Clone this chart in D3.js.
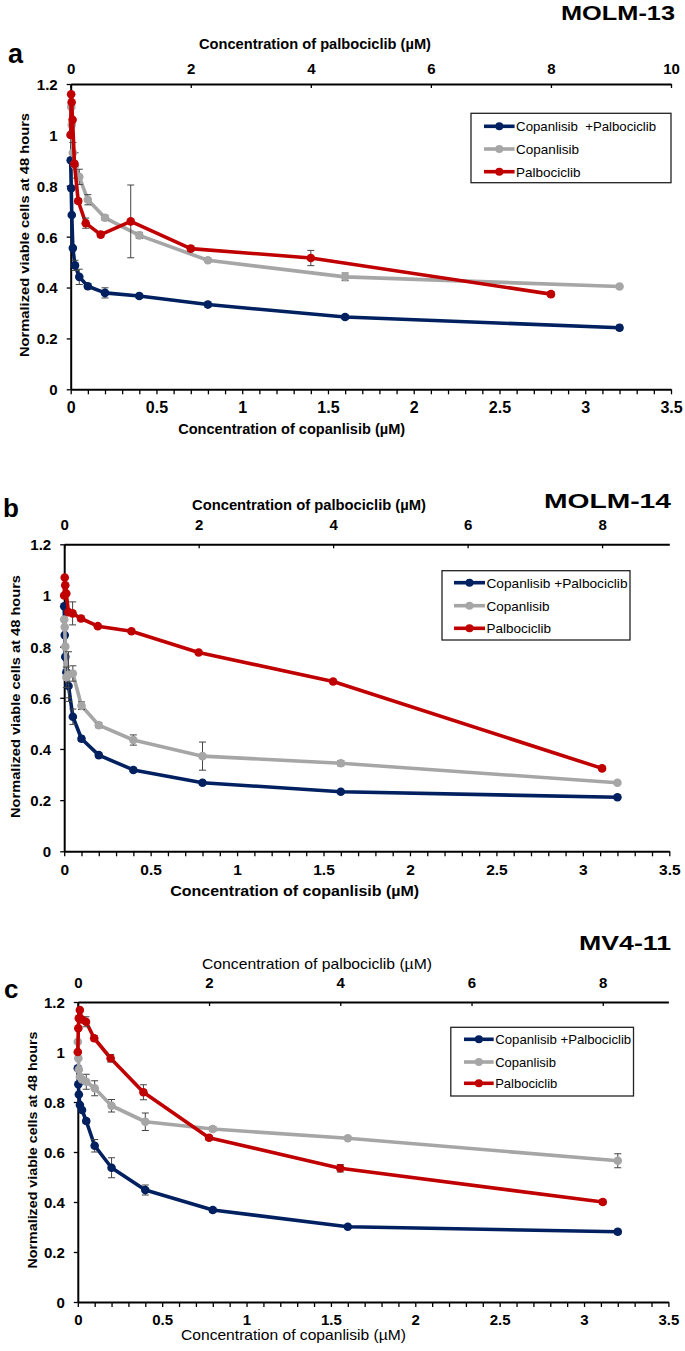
<!DOCTYPE html>
<html><head><meta charset="utf-8">
<script src="https://cdn.jsdelivr.net/npm/d3@7"></script>
<style>
body{margin:0;background:#fff}
svg{display:block}
text{font-family:"Liberation Sans",Arial,sans-serif;fill:#000}
</style>
</head><body>
<svg id="chart" width="685" height="1351"></svg>
<script>
// ---- data ----
const copanConc = [0,0.003125,0.00625,0.0125,0.025,0.05,0.1,0.2,0.4,0.8,1.6,3.2];
const palboConc = [0,0.0078125,0.015625,0.03125,0.0625,0.125,0.25,0.5,1,2,4,8];
const seriesNames = ["Copanlisib  +Palbociclib","Copanlisib","Palbociclib"];
const seriesNamesBC = ["Copanlisib +Palbociclib","Copanlisib","Palbociclib"];
const cellLines = ["MOLM-13","MOLM-14","MV4-11"];
const panelLetters = ["a","b","c"];
const yTicks = [0,0.2,0.4,0.6,0.8,1,1.2];
const xTicksBottom = [0,0.5,1,1.5,2,2.5,3,3.5];
const xTicksTopA = [0,2,4,6,8,10];
const xTicksTopBC = [0,2,4,6,8];

const molm13Combo    = [0.90,0.79,0.685,0.555,0.487,0.442,0.405,0.379,0.367,0.333,0.284,0.242];
const molm13ComboErr = [0,0,0,0,0.02,0.03,0.01,0.02,0.01,0.01,0.008,0.01];
const molm13Copan    = [1.0,1.11,1.04,0.93,0.88,0.835,0.745,0.674,0.605,0.507,0.442,0.404];
const molm13CopanErr = [0,0,0,0.04,0.05,0.03,0.02,0.01,0.012,0.006,0.015,0.006];
const molm13Palbo    = [1.0,1.16,1.128,1.059,0.886,0.74,0.653,0.608,0.66,0.553,0.516,0.374];
const molm13PalboErr = [0,0,0,0,0.01,0.01,0.02,0.01,0.143,0.01,0.03,0.01];

const molm14Combo    = [0.958,0.845,0.76,0.70,0.646,0.526,0.44,0.376,0.318,0.268,0.233,0.211];
const molm14ComboErr = [0,0,0,0,0.06,0.03,0.01,0.01,0.008,0.008,0.005,0.006];
const molm14Copan    = [0.906,0.877,0.80,0.68,0.69,0.695,0.569,0.493,0.435,0.372,0.344,0.268];
const molm14CopanErr = [0,0,0,0.04,0.09,0.03,0.015,0.01,0.02,0.055,0.01,0.006];
const molm14Palbo    = [1.0,1.07,1.04,1.008,0.935,0.93,0.91,0.88,0.86,0.777,0.664,0.324];
const molm14PalboErr = [0,0,0,0,0,0.045,0.01,0.005,0.005,0.005,0.005,0.005];

const mv411Combo     = [0.935,0.871,0.83,0.788,0.768,0.724,0.625,0.537,0.448,0.368,0.301,0.281];
const mv411ComboErr  = [0,0,0,0,0,0.01,0.025,0.04,0.02,0.01,0.005,0.01];
const mv411Copan     = [1.041,0.975,0.93,0.901,0.89,0.881,0.855,0.785,0.721,0.692,0.655,0.565];
const mv411CopanErr  = [0,0,0,0,0,0.03,0.03,0.025,0.035,0.01,0.005,0.028];
const mv411Palbo     = [1.0,1.095,1.135,1.168,1.13,1.121,1.055,0.975,0.839,0.657,0.535,0.40];
const mv411PalboErr  = [0,0,0,0,0,0.02,0.01,0.015,0.03,0.01,0.015,0.01];

const colors = ["#002060","#a6a6a6","#c00000"];

// ---- layout ----
const panels = [
  {x0:70.7, x1:671, top:84, bottom:389.3, palboMax:10, topTicks:xTicksTopA, names:seriesNames,
   data:[[molm13Combo,molm13ComboErr],[molm13Copan,molm13CopanErr],[molm13Palbo,molm13PalboErr]],
   tickFont:16, topTickBase:-10, botTickBase:23.8,
   letter:{x:8,y:63,size:27}, cell:{x:675,y:20,len:114},
   topTitle:{cx:315,y:49,len:232,w:"bold",fs:15}, botTitle:{cx:291.7,y:434,len:227,w:"bold",fs:15},
   yLabel:{x:24,cy:235,len:244},
   legend:{x0:471,x1:671,y0:113.3,y1:182.7,rows:[126.3,149,171.7],m0:484,m1:514.6,fs:13.5,tl:140}},
  {x0:64.2, x1:669.3, top:544.3, bottom:851.3, palboMax:9, topTicks:xTicksTopBC, names:seriesNamesBC,
   data:[[molm14Combo,molm14ComboErr],[molm14Copan,molm14CopanErr],[molm14Palbo,molm14PalboErr]],
   tickFont:15.5, topTickBase:-14.3, botTickBase:23.7,
   letter:{x:3,y:516.7,size:26}, cell:{x:671,y:508,len:127},
   topTitle:{cx:309,y:510,len:234,w:"bold",fs:15}, botTitle:{cx:294.7,y:896,len:249,w:"bold",fs:15},
   yLabel:{x:15,cy:696.5,len:243},
   legend:{x0:442,x1:630,y0:570.7,y1:640,rows:[582.7,605.7,628.3],m0:454,m1:485,fs:13.5,tl:141}},
  {x0:77.8, x1:668.4, top:1002, bottom:1302, palboMax:9, topTicks:xTicksTopBC, names:seriesNamesBC,
   data:[[mv411Combo,mv411ComboErr],[mv411Copan,mv411CopanErr],[mv411Palbo,mv411PalboErr]],
   tickFont:15, topTickBase:-14, botTickBase:23,
   letter:{x:4,y:998,size:26}, cell:{x:671,y:950,len:92},
   topTitle:{cx:317,y:969,len:230,w:"normal",fs:15}, botTitle:{cx:293.5,y:1340,len:225,w:"normal",fs:14.5},
   yLabel:{x:32,cy:1150,len:237},
   legend:{x0:450.8,x1:633.5,y0:1027.3,y1:1096,rows:[1039.3,1062,1083.3],m0:464,m1:493.7,fs:13,tl:136}}
];

const svg = d3.select("#chart");

panels.forEach((p, pi) => {
  const g = svg.append("g");
  const x = d3.scaleLinear().domain([0,3.5]).range([p.x0,p.x1]);
  const xt = d3.scaleLinear().domain([0,p.palboMax]).range([p.x0,p.x1]);
  const y = d3.scaleLinear().domain([0,1.2]).range([p.bottom,p.top]);

  const styleAxis = (sel) => {
    sel.select(".domain").attr("stroke","#000").attr("stroke-width",2);
    sel.selectAll(".tick line").attr("stroke","#000").attr("stroke-width",1.3);
    sel.selectAll(".tick text").attr("font-family",'"Liberation Sans",Arial,sans-serif')
       .attr("font-weight","bold").attr("fill","#000");
  };

  // bottom minor ticks
  g.append("g").attr("transform",`translate(0,${p.bottom})`)
    .call(d3.axisBottom(x).tickValues(d3.range(0,36).map(i=>i/10)).tickSize(5).tickSizeOuter(0).tickFormat(""))
    .call(styleAxis);
  // bottom labels
  g.append("g").attr("transform",`translate(0,${p.bottom})`)
    .call(d3.axisBottom(x).tickValues(xTicksBottom).tickSize(0).tickSizeOuter(0).tickFormat(d=>String(d)))
    .call(styleAxis)
    .call(s=>{s.select(".domain").remove();
      s.selectAll(".tick text").attr("y",p.botTickBase).attr("dy",null).attr("font-size",p.tickFont);});

  // left axis
  g.append("g").attr("transform",`translate(${p.x0},0)`)
    .call(d3.axisLeft(y).tickValues(yTicks).tickSize(4).tickSizeOuter(0).tickFormat(d=>String(d)))
    .call(styleAxis)
    .call(s=>s.selectAll(".tick text").attr("x",-13).attr("dy","0.36em").attr("font-size",15));

  // top axis (ticks pointing inward)
  g.append("g").attr("transform",`translate(0,${p.top})`)
    .call(d3.axisBottom(xt).tickValues(p.topTicks).tickSize(4).tickSizeOuter(0).tickFormat(d=>String(d)))
    .call(styleAxis)
    .call(s=>s.selectAll(".tick text").attr("y",p.topTickBase).attr("dy",null).attr("font-size",15));

  // series
  [0,1,2].forEach(si => {
    const [vals, errs] = p.data[si];
    const xs = si===2 ? palboConc : copanConc;
    const sx = si===2 ? xt : x;
    const pts = vals.map((v,i)=>({x:xs[i], y:v, e:errs[i]}));
    const sg = g.append("g");
    sg.append("path").datum(pts)
      .attr("fill","none").attr("stroke",colors[si]).attr("stroke-width",3.6)
      .attr("stroke-linejoin","round")
      .attr("d", d3.line().x(d=>sx(d.x)).y(d=>y(d.y)));
    const eb = sg.selectAll("g.err").data(pts.filter(d=>d.e>0)).join("g");
    eb.append("line").attr("x1",d=>sx(d.x)).attr("x2",d=>sx(d.x))
      .attr("y1",d=>y(d.y-d.e)).attr("y2",d=>y(d.y+d.e)).attr("stroke","#444").attr("stroke-width",1);
    [-1,1].forEach(s=>{
      eb.append("line").attr("x1",d=>sx(d.x)-3.5).attr("x2",d=>sx(d.x)+3.5)
        .attr("y1",d=>y(d.y+s*d.e)).attr("y2",d=>y(d.y+s*d.e)).attr("stroke","#444").attr("stroke-width",1);
    });
    sg.selectAll("circle").data(pts).join("circle")
      .attr("cx",d=>sx(d.x)).attr("cy",d=>y(d.y)).attr("r",4.3).attr("fill",colors[si]);
  });

  // legend
  const L = p.legend;
  g.append("rect").attr("x",L.x0).attr("y",L.y0).attr("width",L.x1-L.x0).attr("height",L.y1-L.y0)
    .attr("fill","#fff").attr("stroke","#222").attr("stroke-width",1.3);
  p.names.forEach((n,i)=>{
    const yy = L.rows[i];
    g.append("line").attr("x1",L.m0).attr("x2",L.m1).attr("y1",yy).attr("y2",yy)
      .attr("stroke",colors[i]).attr("stroke-width",3.6);
    g.append("circle").attr("cx",(L.m0+L.m1)/2).attr("cy",yy).attr("r",4).attr("fill",colors[i]);
    const t = g.append("text").attr("x",L.m1+1.5).attr("y",yy).attr("dy","0.36em")
      .attr("font-size",L.fs).style("white-space","pre").text(n);
    if (i===0) t.attr("textLength",L.tl).attr("lengthAdjust","spacingAndGlyphs");
  });

  // texts
  g.append("text").attr("x",p.letter.x).attr("y",p.letter.y).attr("font-size",p.letter.size)
    .attr("font-weight","bold").text(panelLetters[pi]);
  g.append("text").attr("x",p.cell.x).attr("y",p.cell.y).attr("text-anchor","end")
    .attr("font-size",21).attr("font-weight","bold").attr("textLength",p.cell.len)
    .attr("lengthAdjust","spacingAndGlyphs").text(cellLines[pi]);
  g.append("text").attr("x",p.topTitle.cx).attr("y",p.topTitle.y).attr("text-anchor","middle")
    .attr("font-size",p.topTitle.fs).attr("font-weight",p.topTitle.w).attr("textLength",p.topTitle.len)
    .attr("lengthAdjust","spacingAndGlyphs").text("Concentration of palbociclib (µM)");
  g.append("text").attr("x",p.botTitle.cx).attr("y",p.botTitle.y).attr("text-anchor","middle")
    .attr("font-size",p.botTitle.fs).attr("font-weight",p.botTitle.w).attr("textLength",p.botTitle.len)
    .attr("lengthAdjust","spacingAndGlyphs").text("Concentration of copanlisib (µM)");
  g.append("text").attr("transform",`translate(${p.yLabel.x},${p.yLabel.cy}) rotate(-90)`)
    .attr("text-anchor","middle").attr("dy","0.36em")
    .attr("font-size",13).attr("font-weight","bold").attr("textLength",p.yLabel.len)
    .attr("lengthAdjust","spacingAndGlyphs")
    .attr("font-family",'"DejaVu Sans",sans-serif')
    .text("Normalized viable cells at 48 hours");
});
</script>
</body></html>
